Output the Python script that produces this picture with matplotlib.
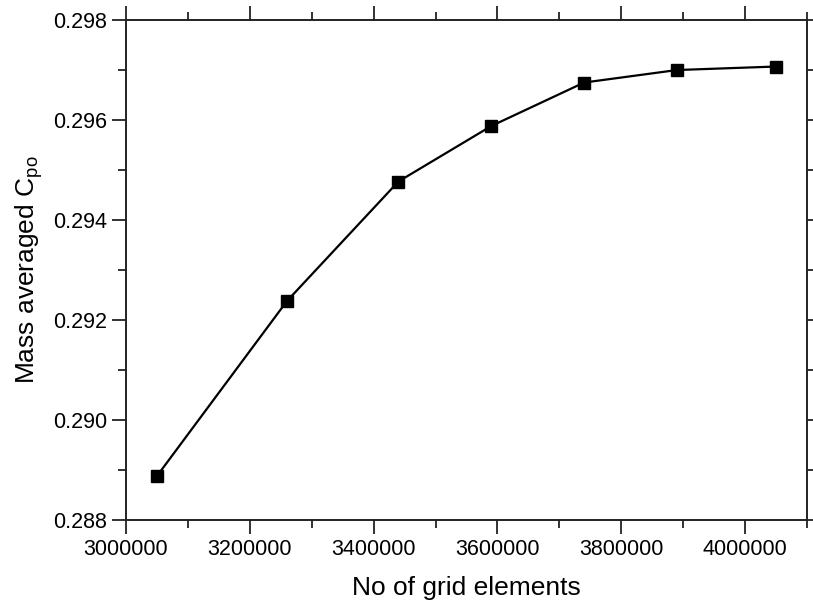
import matplotlib
matplotlib.use("Agg")
import matplotlib.pyplot as plt
from matplotlib.ticker import MultipleLocator

# elementos da malha vs Cpo medio
elementos = [3050000, 3260000, 3440000, 3590000, 3740000, 3890000, 4050000]
cpo = [0.28888, 0.29238, 0.29477, 0.29588, 0.29675, 0.29700, 0.29707]

plt.rcParams['font.family'] = ['Liberation Sans', 'DejaVu Sans']
plt.rcParams['mathtext.fontset'] = 'custom'
plt.rcParams['mathtext.rm'] = 'Liberation Sans'
plt.rcParams['mathtext.it'] = 'Liberation Sans'

fig = plt.figure(figsize=(8.13, 6.07), dpi=100)
ax = fig.add_axes([0.155, 0.1433, 0.8376, 0.8237])

ax.plot(elementos, cpo, color="black", lw=1.6, marker="s", markersize=8.5)

ax.set_xlim(3000000, 4100000)
ax.set_ylim(0.288, 0.298)
ax.xaxis.set_major_locator(MultipleLocator(200000))
ax.xaxis.set_minor_locator(MultipleLocator(100000))
ax.yaxis.set_major_locator(MultipleLocator(0.002))
ax.yaxis.set_minor_locator(MultipleLocator(0.001))
ax.xaxis.set_major_formatter(matplotlib.ticker.FuncFormatter(lambda v, p: f"{int(round(v))}"))
ax.yaxis.set_major_formatter(matplotlib.ticker.FuncFormatter(lambda v, p: f"{v:.3f}"))

ax.tick_params(which="both", direction="out", top=True, right=True, labelsize=15.5, width=1.3, color="#222222")
ax.tick_params(which="major", length=10)
ax.tick_params(which="minor", length=6)
for s in ax.spines.values():
    s.set_linewidth(1.4)
    s.set_color("#222222")

ax.set_xlabel("No of grid elements", fontsize=19, labelpad=12)
ax.set_ylabel(r"Mass averaged C$_{\mathrm{po}}$", fontsize=19, labelpad=6)

fig.savefig("out.png", dpi=100)
